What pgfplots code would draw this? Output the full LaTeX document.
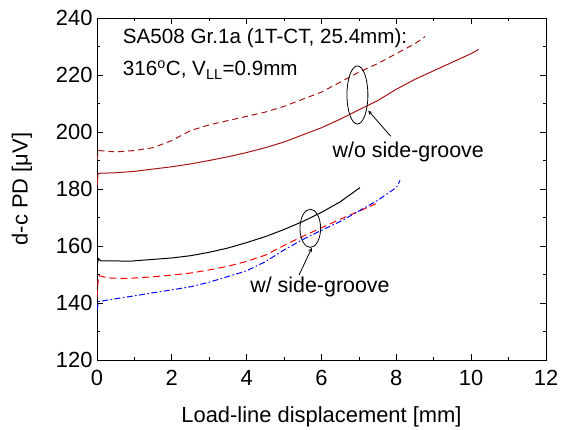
\documentclass[border=0pt]{standalone}
\usepackage{pgfplots}
\pgfplotsset{compat=1.18}
\usepackage{fontspec}
\setmainfont{Liberation Sans}
\definecolor{darkred}{RGB}{165,20,20}
\begin{document}
\begin{tikzpicture}
\useasboundingbox (0,0) rectangle (569bp,430bp);
\begin{axis}[
  at={(97bp,70bp)}, anchor=south west,
  scale only axis, width=449bp, height=342bp,
  xmin=0, xmax=12, ymin=120, ymax=240,
  xtick={0,2,...,12}, ytick={120,140,...,240},
  minor x tick num=1, minor y tick num=1,
  tick align=inside, major tick length=6bp, minor tick length=3bp,
  tick style={black, line width=0.8pt},
  axis line style={line width=0.9pt},
  /pgf/number format/assume math mode=true,
  tick label style={font=\fontsize{22}{26}\selectfont},
  xticklabel style={yshift=-7bp},
  yticklabel style={xshift=-1bp},
  label style={font=\fontsize{22}{26}\selectfont},
  xlabel={Load-line displacement [mm]},
  ylabel={d-c PD [μV]},
  xlabel style={at={(axis description cs:0.5,-0.166)}, anchor=center},
  ylabel style={at={(axis description cs:-0.167,0.5)}, anchor=center},
]
% w/o side-groove, dashed
\addplot[darkred, line width=1pt, dash pattern=on 6pt off 4pt] coordinates {
(0,190) (0.04,193.5) (0.5,193) (1,193.5) (1.5,194.5) (2,197) (2.5,200.5) (3,202.5)
(3.5,204) (4,205.5) (4.5,207) (5,209) (5.5,211.5) (6,214) (6.5,217.5) (7,221)
(7.5,224) (8,227.5) (8.5,231) (8.77,233.5)};
% w/o side-groove, solid
\addplot[darkred, line width=1pt] coordinates {
(0,181) (0.03,185.5) (0.5,185.7) (1,186.2) (1.5,187) (2,187.8) (2.5,188.8) (3,190)
(3.5,191.3) (4,192.8) (4.5,194.5) (5,196.5) (5.5,199) (6,201.5) (6.5,204.5) (7,207.8)
(7.5,211) (8,215) (8.5,218.5) (9,221.5) (9.5,224.5) (10,227.5) (10.2,229)};
% w/ side-groove, black
\addplot[black, line width=1pt] coordinates {
(0,153) (0.04,155.6) (0.1,154.8) (0.9,154.7) (1.5,155.3) (2,155.8) (2.5,156.6) (3,157.8)
(3.5,159.3) (4,161.2) (4.5,163.3) (5,165.8) (5.5,168.6) (6,171.8) (6.5,175.5) (7.03,180.5)};
% w/ side-groove, red dashed
\addplot[red, line width=1pt, dash pattern=on 7pt off 4pt] coordinates {
(0,142) (0.04,149.6) (0.3,148.8) (0.8,148.6) (1.5,149.2) (2,149.8) (2.5,150.5) (3,151.6)
(3.5,152.9) (4,154.6) (4.5,156.8) (5,160.2) (5.5,163.4) (6,166.4) (6.5,169.4) (7,172.2)
(7.45,174.8)};
% w/ side-groove, blue dash-dot
\addplot[blue, line width=1pt, dash pattern=on 6pt off 2.5pt on 1.5pt off 2.5pt] coordinates {
(0,137.5) (0.04,140.5) (0.5,141.5) (1,142.5) (1.5,143.6) (2,144.6) (2.5,145.7) (3,147.3)
(3.5,149.3) (4,151.3) (4.5,154.5) (5,158.6) (5.5,162.3) (6,165.5) (6.5,168.6) (7,172.3)
(7.5,176) (8,180.5) (8.1,183)};
% annotations
\draw[black, line width=0.8pt] (axis cs:6.96,213) ellipse [x radius=0.28, y radius=10.2];
\draw[black, line width=0.8pt] (axis cs:5.70,166.2) ellipse [x radius=0.276, y radius=6.7];
\draw[-stealth, line width=0.8pt] (axis cs:7.85,198.5) -- (axis cs:7.25,207.5);
\draw[-stealth, line width=0.8pt] (axis cs:5.4,149.8) -- (axis cs:5.74,159.3);
\node[font=\fontsize{21.5}{25}\selectfont] at (axis cs:8.32,193) {w/o side-groove};
\node[font=\fontsize{21.5}{25}\selectfont] at (axis cs:5.96,145.6) {w/ side-groove};
\node[font=\fontsize{20.7}{25}\selectfont, anchor=west] at (axis cs:0.6,233) {SA508 Gr.1a (1T-CT, 25.4mm):};
\node[font=\fontsize{20.7}{25}\selectfont, anchor=west] at (axis cs:0.6,221.8) {316\textsuperscript{o}C, V\textsubscript{LL}=0.9mm};
\end{axis}
\end{tikzpicture}
\end{document}
